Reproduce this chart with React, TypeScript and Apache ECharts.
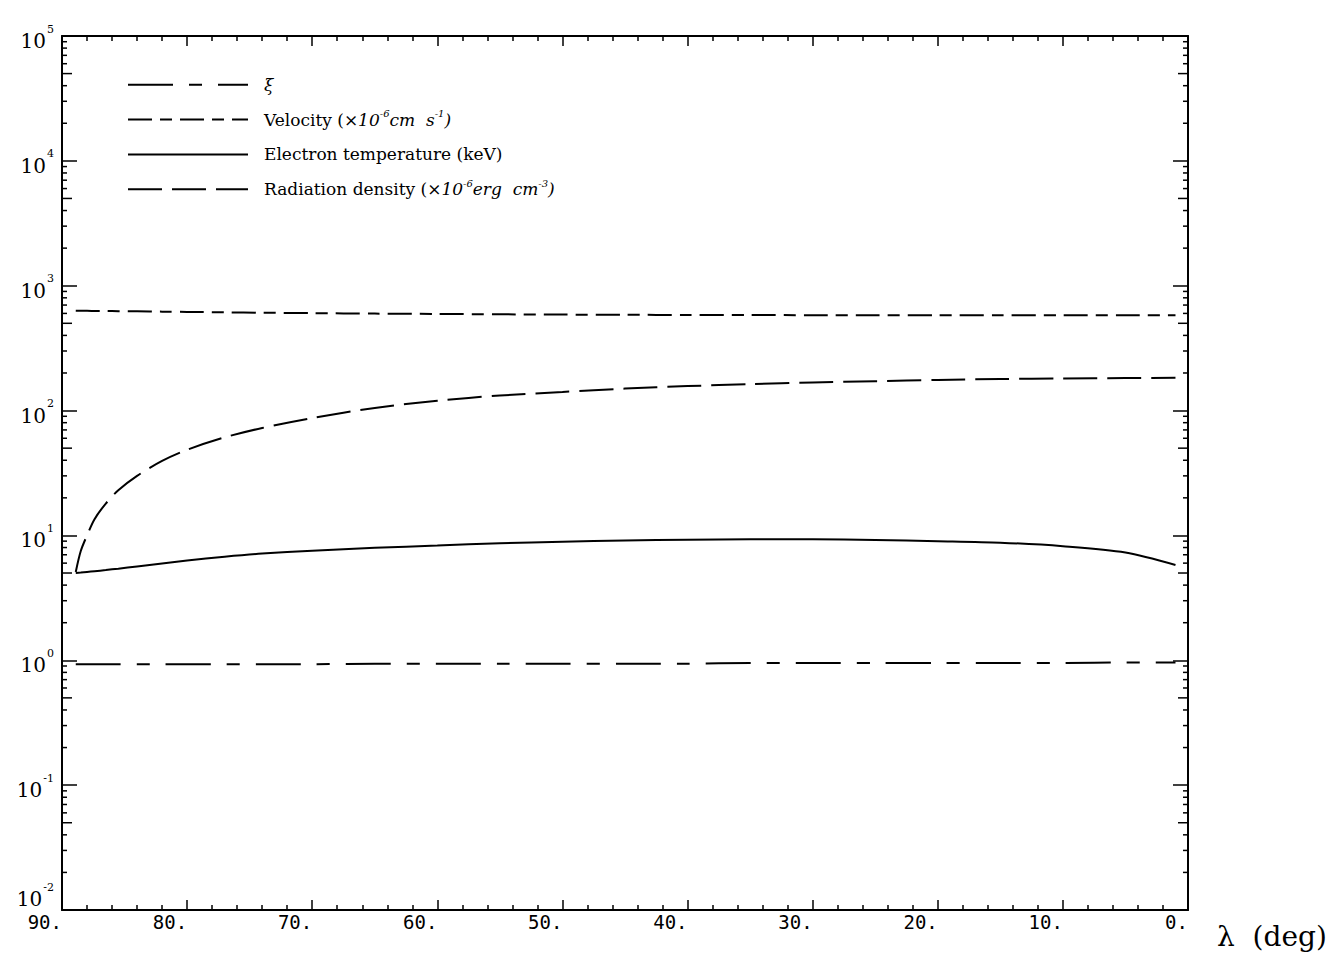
import React, { useEffect, useRef } from "react";
import * as echarts from "echarts";

// latitude λ (deg) sample points
const lambda = [88.9, 88.5, 88.0, 87.4, 86.5, 85.5, 84, 82, 80, 77, 74, 70, 65, 60, 55, 50, 45, 40, 35, 30, 25, 20, 15, 10, 5, 1];
const xi = [0.93, 0.93, 0.93, 0.93, 0.93, 0.93, 0.93, 0.93, 0.93, 0.93, 0.93, 0.93, 0.94, 0.94, 0.94, 0.94, 0.94, 0.94, 0.95, 0.95, 0.95, 0.95, 0.95, 0.95, 0.96, 0.96];
const velocity = [630, 629, 629, 628, 627, 625, 623, 620, 617, 612, 608, 603, 598, 594, 590, 587, 585, 583, 582, 581, 580, 580, 580, 580, 580, 580];
const electronTemp = [5.0, 5.04, 5.1, 5.17, 5.28, 5.42, 5.65, 5.97, 6.3, 6.75, 7.15, 7.55, 7.95, 8.3, 8.65, 8.9, 9.1, 9.25, 9.3, 9.3, 9.2, 9.0, 8.75, 8.2, 7.3, 5.8];
const radiationDensity = [5.1, 7.5, 10, 13.5, 18, 23, 30, 39.5, 48.5, 61, 72.5, 87, 105, 120, 132, 141, 150, 157, 163, 168, 172, 176, 179, 181, 182, 183];

const seriesNames = [
  "ξ",
  "Velocity (×10⁻⁶cm s⁻¹)",
  "Electron temperature (keV)",
  "Radiation density (×10⁻⁶erg cm⁻³)",
];
const legendRich: Record<string, string> = {
  [seriesNames[0]]: "{i|ξ}",
  [seriesNames[1]]: "{n|Velocity (}{i|×10}{s|-6}{i|cm  s}{s|-1}{i|)}",
  [seriesNames[2]]: "{n|Electron temperature (keV)}",
  [seriesNames[3]]: "{n|Radiation density (}{i|×10}{s|-6}{i|erg  cm}{s|-3}{i|)}",
};

const X_MIN = 0;
const X_MAX = 90;
const Y_MIN = 0.01;
const Y_MAX = 1e5;
const minorMantissas = [2, 3, 4, 5, 6, 7, 8, 9];
const minorDecades = [-2, -1, 0, 1, 2, 3, 4];

const SERIF = "'DejaVu Serif', serif";
const MONO = "'DejaVu Sans Mono', monospace";

export default function App() {
  const ref = useRef<HTMLDivElement>(null);
  useEffect(() => {
    if (!ref.current) return;
    const chart = echarts.init(ref.current, undefined, { renderer: "svg" });
    const pairs = (arr: number[]) => lambda.map((l, i) => [l, arr[i]]);

    const minorData: number[][] = [];
    minorDecades.forEach((d) =>
      minorMantissas.forEach((m) => minorData.push([X_MAX, m * Math.pow(10, d), m]))
    );

    const lineSeries = (name: string, data: number[], type: any) => ({
      name,
      type: "line",
      data: pairs(data),
      showSymbol: false,
      symbol: "none",
      smooth: 0.3,
      lineStyle: { color: "#000", width: 2, type },
      itemStyle: { color: "#000" },
      z: 3,
    });

    const xCommon = {
      type: "value",
      min: X_MIN,
      max: X_MAX,
      interval: 10,
      inverse: true,
      axisLine: { show: true, onZero: false, lineStyle: { color: "#000", width: 2 } },
      axisTick: { show: true, inside: true, length: 10, lineStyle: { color: "#000", width: 1.5 } },
      minorTick: { show: true, splitNumber: 5, length: 5, lineStyle: { color: "#000", width: 1.5 } },
      splitLine: { show: false },
      minorSplitLine: { show: false },
    };
    const yCommon = {
      type: "log",
      logBase: 10,
      min: Y_MIN,
      max: Y_MAX,
      axisLine: { show: true, onZero: false, lineStyle: { color: "#000", width: 2 } },
      axisTick: { show: true, inside: true, length: 15, lineStyle: { color: "#000", width: 1.5 } },
      splitLine: { show: false },
    };

    chart.setOption({
      animation: false,
      backgroundColor: "#fff",
      grid: { left: 62, right: 148, top: 36, bottom: 69, containLabel: false, outerBoundsMode: "none" },
      xAxis: [
        {
          ...xCommon,
          position: "bottom",
          axisLabel: {
            show: true,
            formatter: (v: number) => `${v}.`,
            fontFamily: MONO,
            fontSize: 19,
            color: "#000",
            align: "right",
            verticalAlign: "top",
            margin: 2,
          },
        },
        { ...xCommon, position: "top", axisLabel: { show: false } },
      ],
      yAxis: [
        {
          ...yCommon,
          position: "left",
          axisLabel: {
            show: true,
            margin: 8,
            formatter: (v: number) => {
              const e = Math.round(Math.log10(v));
              return e === -2 ? `{b2|10}{s2|${e}}` : `{b|10}{s|${e}}`;
            },
            rich: {
              b: { fontFamily: SERIF, fontSize: 20, color: "#000", lineHeight: 20, padding: [10, 0, 0, 0], verticalAlign: "middle" },
              s: { fontFamily: SERIF, fontSize: 11, color: "#000", lineHeight: 11, padding: [0, 0, 14, 1], verticalAlign: "middle" },
              b2: { fontFamily: SERIF, fontSize: 20, color: "#000", lineHeight: 20, padding: [0, 0, 22, 0], verticalAlign: "middle" },
              s2: { fontFamily: SERIF, fontSize: 11, color: "#000", lineHeight: 11, padding: [0, 0, 46, 1], verticalAlign: "middle" },
            },
          },
        },
        { ...yCommon, position: "right", axisLabel: { show: false } },
      ],
      legend: {
        data: seriesNames,
        orient: "vertical",
        left: 127,
        top: 76,
        padding: 0,
        itemWidth: 120,
        itemHeight: 22,
        itemGap: 15,
        selectedMode: false,
        itemStyle: { opacity: 0, color: "transparent", borderWidth: 0 },
        formatter: (name: string) => legendRich[name] || name,
        textStyle: {
          padding: [0, 0, 0, 11],
          rich: {
            n: { fontFamily: SERIF, fontSize: 17, color: "#000", lineHeight: 22, verticalAlign: "middle" },
            i: { fontFamily: SERIF, fontStyle: "italic", fontSize: 17, color: "#000", lineHeight: 22, verticalAlign: "middle" },
            s: { fontFamily: SERIF, fontStyle: "italic", fontSize: 10, color: "#000", lineHeight: 10, padding: [0, 0, 12, 0], verticalAlign: "middle" },
          },
        },
      },
      graphic: [
        {
          type: "text",
          left: 1217,
          top: 922,
          style: { text: "λ\u00a0 (deg)", fontFamily: SERIF, fontSize: 28, fill: "#000" },
        },
      ],
      series: [
        lineSeries(seriesNames[0], xi, [45, 16, 13, 16]),
        lineSeries(seriesNames[1], velocity, [24, 8, 12, 8]),
        lineSeries(seriesNames[2], electronTemp, "solid"),
        lineSeries(seriesNames[3], radiationDensity, [34, 10]),
        {
          type: "custom",
          name: "minorTicks",
          silent: true,
          data: minorData,
          encode: { x: 0, y: 1 },
          z: 5,
          renderItem: (params: any, api: any) => {
            const v = api.value(1);
            const m = api.value(2);
            const pl = api.coord([X_MAX, v]);
            const pr = api.coord([X_MIN, v]);
            const len = m === 5 ? 10 : 5;
            const st = { stroke: "#000", lineWidth: 1.5 };
            return {
              type: "group",
              children: [
                { type: "line", shape: { x1: pl[0], y1: pl[1], x2: pl[0] + len, y2: pl[1] }, style: st },
                { type: "line", shape: { x1: pr[0], y1: pr[1], x2: pr[0] - len, y2: pr[1] }, style: st },
              ],
            };
          },
        },
      ],
    });
    return () => chart.dispose();
  }, []);
  return (
    <div
      ref={ref}
      style={{ position: "absolute", left: 0, top: 0, width: 1336, height: 979, background: "#fff" }}
    />
  );
}
